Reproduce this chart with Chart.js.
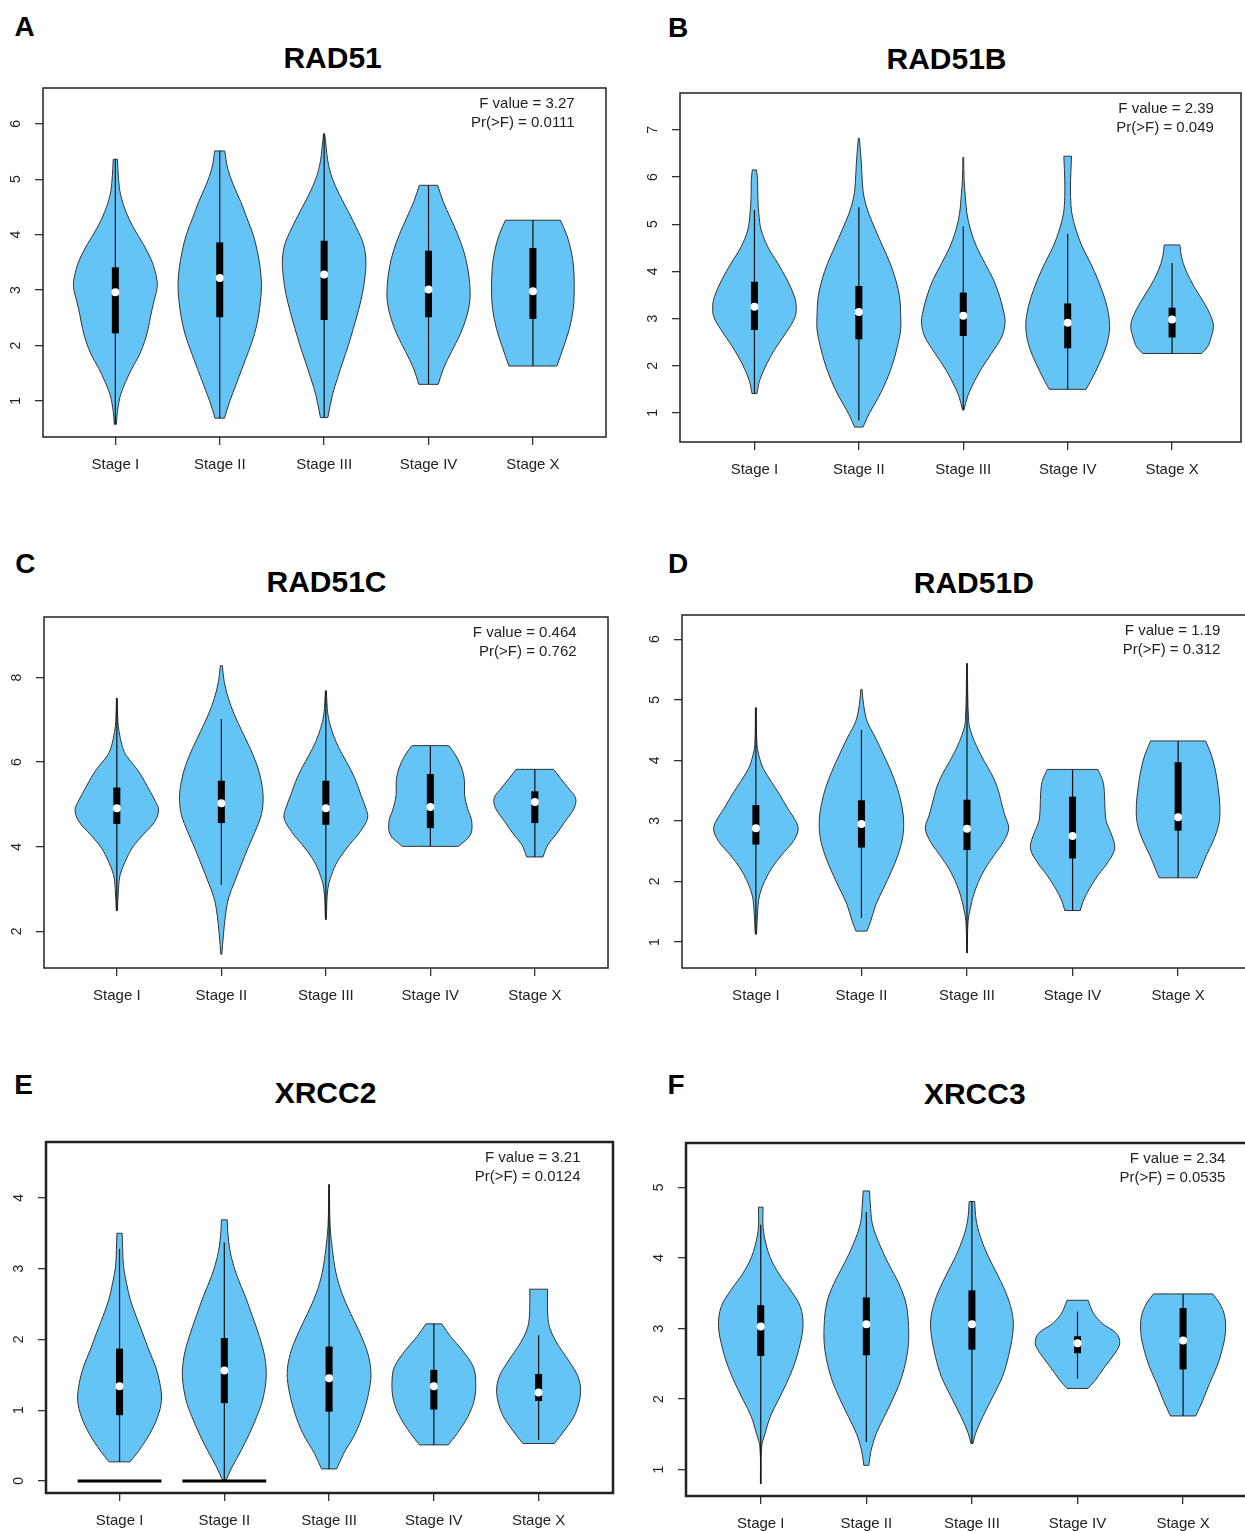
<!DOCTYPE html>
<html>
<head>
<meta charset="utf-8">
<script src="https://cdn.jsdelivr.net/npm/chart.js@4.4.0/dist/chart.umd.min.js"></script>
<style>
  body { margin: 0; width: 1245px; height: 1531px; overflow: hidden; position: relative; background: #fff; font-family: "Liberation Sans", Arial, sans-serif; }
  .letter { position: absolute; font-size: 28px; font-weight: bold; line-height: 28px; transform: translate(-50%, -50%); color: #000; }
  .title { position: absolute; font-size: 30px; font-weight: bold; line-height: 30px; transform: translate(-50%, -50%); white-space: nowrap; color: #000; }
  canvas { position: absolute; }
</style>
</head>
<body>
<script>
const stages = ["Stage I", "Stage II", "Stage III", "Stage IV", "Stage X"];
const genes = ["RAD51", "RAD51B", "RAD51C", "RAD51D", "XRCC2", "XRCC3"];
const panelLetters = ["A", "B", "C", "D", "E", "F"];
const fValues = ["3.27", "2.39", "0.464", "1.19", "3.21", "2.34"];
const pValues = ["0.0111", "0.049", "0.762", "0.312", "0.0124", "0.0535"];

// y tick labels and y range of each panel
const yTicks = [[1, 2, 3, 4, 5, 6], [1, 2, 3, 4, 5, 6, 7], [2, 4, 6, 8], [1, 2, 3, 4, 5, 6], [0, 1, 2, 3, 4], [1, 2, 3, 4, 5]];
const yRanges = [[0.35, 6.645], [0.384, 7.78], [1.135, 9.43], [0.571, 6.40], [-0.17, 4.79], [0.625, 5.63]];

// violin outlines: [expression, half width] from bottom to top, one list per stage
const rad51Shapes = [
  [[0.58,0.01],[0.81,0.02],[1.11,0.05],[1.35,0.10],[1.59,0.16],[1.83,0.23],[2.07,0.28],[2.31,0.315],[2.55,0.34],[2.80,0.37],[3.04,0.40],[3.22,0.395],[3.52,0.35],[3.82,0.27],[4.12,0.175],[4.42,0.10],[4.72,0.05],[5.02,0.03],[5.36,0.02]],
  [[0.69,0.045],[0.99,0.095],[1.29,0.155],[1.59,0.215],[1.89,0.275],[2.19,0.33],[2.49,0.367],[2.80,0.39],[3.10,0.40],[3.40,0.387],[3.70,0.36],[4.0,0.32],[4.30,0.26],[4.60,0.20],[4.90,0.13],[5.20,0.075],[5.51,0.048]],
  [[0.70,0.035],[1.11,0.08],[1.41,0.128],[1.71,0.18],[2.01,0.233],[2.31,0.28],[2.61,0.325],[2.92,0.365],[3.22,0.39],[3.52,0.40],[3.82,0.378],[4.12,0.31],[4.42,0.23],[4.72,0.147],[5.02,0.077],[5.33,0.035],[5.57,0.02],[5.82,0.005]],
  [[1.30,0.093],[1.59,0.144],[1.89,0.22],[2.19,0.30],[2.49,0.36],[2.80,0.395],[3.10,0.395],[3.40,0.375],[3.70,0.337],[4.0,0.28],[4.30,0.21],[4.60,0.14],[4.89,0.088]],
  [[1.63,0.23],[2.01,0.30],[2.31,0.35],[2.67,0.387],[3.04,0.396],[3.40,0.39],[3.70,0.367],[4.0,0.323],[4.26,0.263]]
];
const rad51bShapes = [
  [[1.41,0.024],[1.69,0.05],[2.05,0.12],[2.40,0.21],[2.76,0.32],[3.04,0.39],[3.25,0.40],[3.46,0.384],[3.82,0.313],[4.17,0.224],[4.52,0.128],[4.88,0.064],[5.23,0.042],[5.59,0.032],[5.94,0.03],[6.15,0.02]],
  [[0.70,0.04],[0.99,0.10],[1.34,0.19],[1.69,0.265],[2.05,0.325],[2.40,0.368],[2.76,0.40],[3.11,0.40],[3.46,0.39],[3.82,0.353],[4.17,0.30],[4.52,0.23],[4.88,0.16],[5.23,0.094],[5.59,0.048],[5.94,0.032],[6.29,0.024],[6.82,0.005]],
  [[1.06,0.006],[1.34,0.04],[1.55,0.08],[1.91,0.166],[2.26,0.27],[2.61,0.368],[2.90,0.40],[3.11,0.39],[3.46,0.35],[3.82,0.29],[4.17,0.208],[4.52,0.128],[4.88,0.07],[5.23,0.035],[5.59,0.02],[5.94,0.008],[6.42,0.004]],
  [[1.50,0.176],[1.69,0.224],[2.05,0.304],[2.40,0.368],[2.76,0.40],[3.11,0.39],[3.46,0.35],[3.82,0.29],[4.17,0.22],[4.52,0.14],[4.88,0.08],[5.23,0.04],[5.59,0.028],[5.94,0.028],[6.44,0.037]],
  [[2.26,0.28],[2.40,0.34],[2.61,0.375],[2.83,0.396],[3.04,0.374],[3.32,0.31],[3.68,0.21],[4.03,0.13],[4.31,0.09],[4.56,0.075]]
];
const rad51cShapes = [
  [[2.49,0.005],[3.02,0.016],[3.34,0.032],[3.65,0.08],[3.97,0.147],[4.28,0.25],[4.60,0.364],[4.87,0.40],[5.07,0.37],[5.39,0.30],[5.70,0.23],[5.94,0.16],[6.17,0.086],[6.41,0.048],[6.72,0.022],[6.96,0.01],[7.51,0.004]],
  [[1.46,0.005],[1.92,0.02],[2.39,0.04],[2.79,0.07],[3.18,0.128],[3.57,0.19],[3.97,0.255],[4.36,0.323],[4.76,0.383],[5.15,0.40],[5.54,0.383],[5.94,0.34],[6.33,0.275],[6.72,0.20],[7.12,0.125],[7.51,0.067],[7.91,0.027],[8.28,0.01]],
  [[2.28,0.004],[3.02,0.02],[3.42,0.067],[3.73,0.13],[4.05,0.227],[4.36,0.33],[4.68,0.40],[4.91,0.383],[5.23,0.335],[5.54,0.29],[5.86,0.23],[6.17,0.16],[6.49,0.096],[6.80,0.05],[7.12,0.02],[7.69,0.004]],
  [[4.01,0.27],[4.28,0.383],[4.60,0.396],[4.91,0.355],[5.23,0.327],[5.54,0.327],[5.86,0.30],[6.17,0.24],[6.39,0.176]],
  [[3.76,0.078],[4.05,0.125],[4.28,0.20],[4.60,0.29],[4.91,0.376],[5.15,0.39],[5.39,0.32],[5.62,0.245],[5.83,0.18]]
];
const rad51dShapes = [
  [[1.13,0.006],[1.56,0.019],[1.78,0.036],[2.0,0.082],[2.22,0.15],[2.44,0.245],[2.66,0.353],[2.85,0.40],[2.99,0.38],[3.21,0.30],[3.43,0.227],[3.65,0.145],[3.87,0.068],[4.09,0.027],[4.26,0.01],[4.87,0.004]],
  [[1.18,0.052],[1.34,0.087],[1.62,0.137],[1.89,0.21],[2.17,0.284],[2.44,0.347],[2.72,0.39],[2.99,0.40],[3.27,0.38],[3.54,0.34],[3.82,0.28],[4.09,0.21],[4.37,0.134],[4.64,0.055],[4.92,0.02],[5.17,0.006]],
  [[0.82,0.003],[1.34,0.01],[1.56,0.032],[1.78,0.063],[2.0,0.11],[2.22,0.174],[2.44,0.26],[2.66,0.347],[2.88,0.395],[3.10,0.357],[3.32,0.324],[3.54,0.29],[3.76,0.237],[3.98,0.165],[4.20,0.10],[4.42,0.047],[4.64,0.016],[5.60,0.003]],
  [[1.52,0.074],[1.67,0.10],[1.89,0.163],[2.11,0.245],[2.33,0.34],[2.55,0.40],[2.77,0.37],[2.99,0.32],[3.21,0.307],[3.43,0.303],[3.65,0.288],[3.85,0.24]],
  [[2.06,0.18],[2.22,0.218],[2.44,0.27],[2.72,0.345],[2.99,0.39],[3.27,0.395],[3.54,0.38],[3.82,0.355],[4.09,0.315],[4.32,0.26]]
];
const xrcc2Shapes = [
  [[0.27,0.1],[0.43,0.185],[0.67,0.29],[0.91,0.365],[1.14,0.40],[1.38,0.385],[1.61,0.345],[1.85,0.28],[2.09,0.22],[2.32,0.16],[2.56,0.103],[2.80,0.066],[3.03,0.038],[3.27,0.03],[3.50,0.025]],
  [[0.02,0.02],[0.20,0.075],[0.43,0.16],[0.67,0.24],[0.91,0.31],[1.14,0.365],[1.47,0.40],[1.76,0.385],[2.04,0.335],[2.32,0.27],[2.61,0.2],[2.89,0.123],[3.17,0.066],[3.46,0.036],[3.69,0.028]],
  [[0.17,0.072],[0.39,0.14],[0.67,0.25],[0.95,0.325],[1.24,0.377],[1.52,0.40],[1.80,0.37],[2.09,0.295],[2.37,0.205],[2.65,0.123],[2.94,0.066],[3.27,0.032],[3.60,0.01],[4.19,0.003]],
  [[0.51,0.137],[0.67,0.222],[0.91,0.325],[1.14,0.385],[1.38,0.40],[1.61,0.377],[1.85,0.27],[2.04,0.16],[2.22,0.075]],
  [[0.53,0.15],[0.72,0.25],[0.95,0.35],[1.24,0.40],[1.47,0.377],[1.71,0.283],[1.95,0.174],[2.18,0.103],[2.42,0.085],[2.71,0.085]]
];
const xrcc3Shapes = [
  [[0.80,0.003],[1.32,0.008],[1.51,0.041],[1.75,0.09],[1.98,0.165],[2.22,0.243],[2.46,0.31],[2.70,0.36],[3.03,0.40],[3.31,0.375],[3.55,0.28],[3.78,0.17],[4.02,0.086],[4.30,0.034],[4.49,0.02],[4.72,0.022]],
  [[1.06,0.024],[1.27,0.045],[1.51,0.094],[1.75,0.17],[2.03,0.26],[2.32,0.337],[2.70,0.393],[3.03,0.40],[3.36,0.375],[3.64,0.307],[3.93,0.206],[4.21,0.12],[4.49,0.056],[4.78,0.037],[4.95,0.03]],
  [[1.37,0.01],[1.51,0.034],[1.75,0.103],[2.03,0.197],[2.32,0.29],[2.60,0.345],[2.93,0.387],[3.17,0.387],[3.45,0.337],[3.74,0.25],[4.02,0.155],[4.30,0.08],[4.54,0.04],[4.80,0.026]],
  [[2.15,0.1],[2.27,0.17],[2.46,0.26],[2.65,0.355],[2.79,0.40],[2.93,0.37],[3.07,0.235],[3.22,0.15],[3.40,0.1]],
  [[1.76,0.12],[1.98,0.187],[2.22,0.25],[2.46,0.32],[2.70,0.37],[2.93,0.40],[3.17,0.395],[3.36,0.345],[3.49,0.28]]
];

// whisker low, q1, median, q3, whisker high
const rad51Boxes = [[0.58,2.22,2.96,3.41,5.36],[0.69,2.51,3.22,3.86,5.51],[0.70,2.46,3.28,3.89,5.82],[1.30,2.51,3.01,3.71,4.89],[1.63,2.48,2.98,3.76,4.26]];
const rad51bBoxes = [[1.41,2.76,3.25,3.78,5.30],[0.84,2.56,3.14,3.69,5.36],[1.06,2.63,3.06,3.55,4.95],[1.50,2.37,2.91,3.32,4.79],[2.26,2.60,2.98,3.23,4.18]];
const rad51cBoxes = [[2.49,4.54,4.91,5.40,7.51],[3.10,4.56,5.03,5.56,7.02],[2.28,4.52,4.91,5.56,7.69],[4.01,4.44,4.94,5.72,6.39],[3.76,4.56,5.06,5.31,5.83]];
const rad51dBoxes = [[1.13,2.61,2.88,3.26,4.87],[1.40,2.56,2.95,3.34,4.50],[0.82,2.52,2.87,3.35,5.60],[1.52,2.38,2.75,3.40,3.85],[2.06,2.84,3.06,3.97,4.32]];
const xrcc2Boxes = [[0.27,0.93,1.34,1.87,3.28],[0.02,1.10,1.56,2.02,3.37],[0.17,0.98,1.45,1.90,4.19],[0.51,1.01,1.34,1.57,2.22],[0.58,1.13,1.25,1.51,2.06]];
const xrcc3Boxes = [[0.80,2.61,3.03,3.33,4.47],[1.39,2.62,3.06,3.44,4.65],[1.37,2.70,3.06,3.54,4.80],[2.29,2.65,2.79,2.89,3.24],[1.76,2.42,2.83,3.29,3.49]];

// stages with a zero baseline drawn under them
const zeroLineStages = [[], [], [], [], [1, 2], []];

const allShapes = [rad51Shapes, rad51bShapes, rad51cShapes, rad51dShapes, xrcc2Shapes, xrcc3Shapes];
const allBoxes = [rad51Boxes, rad51bBoxes, rad51cBoxes, rad51dBoxes, xrcc2Boxes, xrcc3Boxes];

// page layout: plot box [left, top, right, bottom], x range, frame width, letter and title centres
const panels = [
  { box: [43, 88, 606, 437], xr: [0.307, 5.70], frame: 1.5, letter: [24.5, 27], title: [332.6, 57.8] },
  { box: [680, 93, 1241, 442], xr: [0.287, 5.66], frame: 1.5, letter: [678, 27.5], title: [946.5, 59.2] },
  { box: [44, 617, 608, 968], xr: [0.303, 5.70], frame: 1.5, letter: [25.3, 564], title: [326.5, 581.7] },
  { box: [682, 615, 1252, 968], xr: [0.30, 5.70], frame: 1.5, letter: [678, 564], title: [973.8, 583.3] },
  { box: [46, 1142, 613, 1493], xr: [0.298, 5.71], frame: 2.5, letter: [23.7, 1084.7], title: [325.5, 1093.3] },
  { box: [686, 1143, 1257, 1496], xr: [0.292, 5.70], frame: 2.5, letter: [676, 1084.7], title: [974.8, 1094.2] }
];
const M = { left: 45, top: 10, right: 10, bottom: 45 };
const FONT = '"Liberation Sans", Arial, sans-serif';
const violinFill = "#64c4f5";

function violinPoints(c, shape) {
  const right = shape.map(([y, w]) => ({ x: c + w, y: y }));
  const left = shape.map(([y, w]) => ({ x: c - w, y: y })).reverse();
  // corners doubled so the flat ends stay straight
  return [...right, right[right.length - 1], left[0], ...left, left[left.length - 1], right[0]];
}

const panelDecor = {
  id: "panelDecor",
  afterDraw(chart, args, opts) {
    const { ctx, chartArea: a, scales } = chart;
    ctx.save();
    ctx.lineWidth = opts.frame;
    ctx.strokeStyle = "#222";
    ctx.strokeRect(a.left, a.top, a.right - a.left, a.bottom - a.top);

    ctx.fillStyle = "#222";
    ctx.font = "14px " + FONT;
    ctx.textAlign = "center";
    ctx.textBaseline = "middle";
    opts.ticks.forEach((v) => {
      const y = scales.y.getPixelForValue(v);
      ctx.save();
      ctx.translate(a.left - 27, y);
      ctx.rotate(-Math.PI / 2);
      ctx.fillText(String(v), 0, 0);
      ctx.restore();
    });

    ctx.font = "15px " + FONT;
    ctx.textAlign = "right";
    const sx = scales.x.getPixelForValue(5.4);
    ctx.fillText("F value = " + opts.f, sx, a.top + 16);
    ctx.fillText("Pr(>F) = " + opts.p, sx, a.top + 35);
    ctx.restore();
  }
};

panels.forEach((pn, p) => {
  const [L, T, R, B] = pn.box;

  const letter = document.createElement("div");
  letter.className = "letter";
  letter.textContent = panelLetters[p];
  letter.style.left = pn.letter[0] + "px";
  letter.style.top = pn.letter[1] + "px";
  document.body.appendChild(letter);

  const title = document.createElement("div");
  title.className = "title";
  title.textContent = genes[p];
  title.style.left = pn.title[0] + "px";
  title.style.top = pn.title[1] + "px";
  document.body.appendChild(title);

  const cv = document.createElement("canvas");
  cv.width = R - L + M.left + M.right;
  cv.height = B - T + M.top + M.bottom;
  cv.style.left = (L - M.left) + "px";
  cv.style.top = (T - M.top) + "px";
  document.body.appendChild(cv);

  const datasets = [];
  allShapes[p].forEach((shape, i) => {
    const c = i + 1;
    const [lo, q1, med, q3, hi] = allBoxes[p][i];
    datasets.push({
      data: violinPoints(c, shape),
      borderColor: "#333",
      borderWidth: 1,
      backgroundColor: violinFill,
      fill: "shape",
      tension: 0.35,
      pointRadius: 0,
      order: 4
    });
    datasets.push({
      data: [{ x: c, y: lo }, { x: c, y: hi }],
      borderColor: "#111",
      borderWidth: 1.2,
      pointRadius: 0,
      order: 3
    });
    datasets.push({
      data: [{ x: c, y: q1 }, { x: c, y: q3 }],
      borderColor: "#000",
      borderWidth: 7,
      borderCapStyle: "butt",
      pointRadius: 0,
      order: 2
    });
    datasets.push({
      data: [{ x: c, y: med }],
      showLine: false,
      pointRadius: 4,
      pointBackgroundColor: "#fff",
      pointBorderWidth: 0,
      order: 1
    });
  });
  zeroLineStages[p].forEach((c) => {
    datasets.push({
      data: [{ x: c - 0.4, y: 0 }, { x: c + 0.4, y: 0 }],
      borderColor: "#000",
      borderWidth: 3,
      pointRadius: 0,
      order: 0
    });
  });

  new Chart(cv, {
    type: "line",
    data: { datasets: datasets },
    plugins: [panelDecor],
    options: {
      responsive: false,
      animation: false,
      events: [],
      layout: { padding: { left: 0, top: M.top, right: M.right, bottom: 0 } },
      plugins: {
        legend: { display: false },
        tooltip: { enabled: false },
        panelDecor: { frame: pn.frame, ticks: yTicks[p], f: fValues[p], p: pValues[p] }
      },
      scales: {
        x: {
          type: "linear",
          min: pn.xr[0],
          max: pn.xr[1],
          afterBuildTicks: (ax) => { ax.ticks = stages.map((s, i) => ({ value: i + 1 })); },
          afterFit: (ax) => { ax.height = M.bottom; },
          ticks: {
            callback: (v, i) => stages[i],
            font: { size: 15, family: FONT },
            color: "#222",
            padding: 11,
            maxRotation: 0,
            minRotation: 0,
            autoSkip: false
          },
          grid: { drawOnChartArea: false, drawTicks: true, tickLength: 8, tickColor: "#333", lineWidth: 1.3 },
          border: { display: false }
        },
        y: {
          type: "linear",
          min: yRanges[p][0],
          max: yRanges[p][1],
          afterBuildTicks: (ax) => { ax.ticks = yTicks[p].map((v) => ({ value: v })); },
          afterFit: (ax) => { ax.width = M.left; },
          ticks: { display: false },
          grid: { drawOnChartArea: false, drawTicks: true, tickLength: 8, tickColor: "#333", lineWidth: 1.3 },
          border: { display: false }
        }
      }
    }
  });
});
</script>
</body>
</html>
